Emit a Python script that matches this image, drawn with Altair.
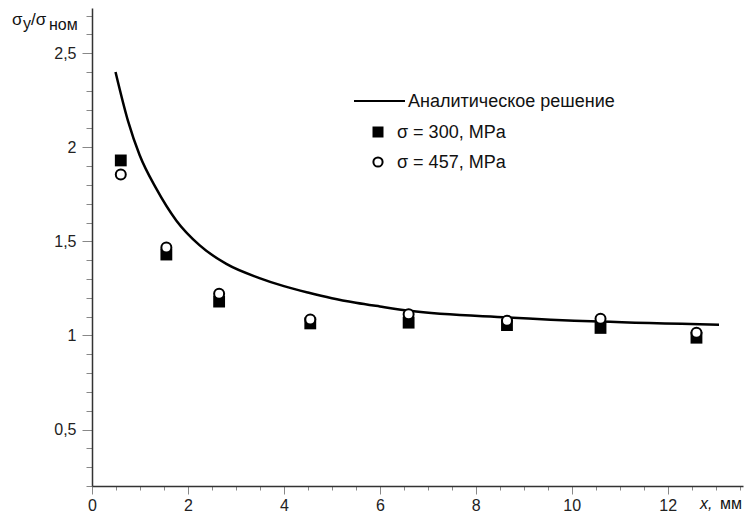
import altair as alt
import pandas as pd

# ---- data ----
curve_x = [0.49, 0.75, 0.99, 1.34, 1.76, 2.24, 2.80, 3.49, 4.0, 4.5, 5.0, 5.5, 6.0, 6.62, 8.67, 10.58, 13.07]
curve_y = [2.40, 2.14, 1.96, 1.78, 1.61, 1.48, 1.38, 1.305, 1.262, 1.228, 1.198, 1.174, 1.154, 1.131, 1.096, 1.074, 1.057]

pts_x = [0.6, 1.55, 2.65, 4.55, 6.6, 8.65, 10.6, 12.6]
sig300 = [1.93, 1.43, 1.18, 1.064, 1.068, 1.055, 1.04, 0.988]
sig457 = [1.855, 1.468, 1.222, 1.085, 1.113, 1.078, 1.089, 1.014]

x_major = [0, 2, 4, 6, 8, 10, 12]
x_minor = [i * 0.5 for i in range(28)]
y_major = [0.5, 1.0, 1.5, 2.0, 2.5]
y_minor = [round(0.2 + 0.1 * i, 1) for i in range(26)]

legend_labels = ["Аналитическое решение", "σ = 300, MPa", "σ = 457, MPa"]

FONT = "Liberation Sans"
W, H = 651, 478
x_scale = alt.Scale(domain=[0, 13.57], nice=False, zero=False)
y_scale = alt.Scale(domain=[0.2, 2.74], nice=False, zero=False)

curve_df = pd.DataFrame({"x": curve_x, "y": curve_y})
pts_df = pd.DataFrame({"x": pts_x, "s300": sig300, "s457": sig457})

minor_x_axis = alt.Axis(values=x_minor, labels=False, domain=False, tickSize=4,
                        grid=False, title=None, orient="bottom", tickColor="#888")
minor_y_axis = alt.Axis(values=y_minor, labels=False, domain=False, tickSize=6,
                        grid=False, title=None, orient="left", tickColor="#888")
major_x_axis = alt.Axis(values=x_major, labelFlush=False, tickSize=8, labelPadding=3,
                        grid=False, title=None, orient="bottom", domainColor="#333",
                        domainWidth=1.5, tickColor="#888", labelFont=FONT,
                        labelFontSize=16, labelColor="#222")
major_y_axis = alt.Axis(values=y_major, tickSize=10, labelPadding=6, grid=False,
                        title=None, orient="left", domainColor="#333", domainWidth=1.5,
                        tickColor="#888", labelFont=FONT, labelFontSize=16,
                        labelColor="#222",
                        labelExpr="replace(format(datum.value, '~g'), '.', ',')")

curve = alt.Chart(curve_df).mark_line(color="black", strokeWidth=2.5, interpolate="monotone").encode(
    x=alt.X("x:Q", scale=x_scale, axis=minor_x_axis),
    y=alt.Y("y:Q", scale=y_scale, axis=minor_y_axis),
)

squares = alt.Chart(pts_df).mark_square(color="black", filled=True, size=140, opacity=1).encode(
    x=alt.X("x:Q", scale=x_scale, axis=major_x_axis),
    y=alt.Y("s300:Q", scale=y_scale, axis=major_y_axis),
)

circles = alt.Chart(pts_df).mark_point(shape="circle", filled=False, fill="white", fillOpacity=1,
                                       stroke="black", strokeWidth=2, size=100, opacity=1).encode(
    x=alt.X("x:Q", scale=x_scale, axis=None),
    y=alt.Y("s457:Q", scale=y_scale, axis=None),
)

one = pd.DataFrame({"a": [0]})

def txt(text, x, y, size=16, style="normal", baseline="alphabetic", align="left"):
    return alt.Chart(one).mark_text(text=text, font=FONT, fontSize=size, fontStyle=style,
                                    align=align, baseline=baseline, color="#111").encode(
        x=alt.value(x), y=alt.value(y))

# y-axis title  σy/σном
ytitle = [
    txt("σ", 12 - 92, 25 - 8, size=17),
    txt("y", 23 - 92, 29 - 8, size=16),
    txt("/σ", 31 - 92, 25 - 8, size=17),
    txt("ном", 49 - 92, 30 - 8, size=16),
]
# x-axis title
xtitle = [
    txt("x,", 700 - 92, 509 - 8, style="italic"),
    txt("мм", 720 - 92, 509 - 8),
]

# legend
leg_line = alt.Chart(one).mark_rule(color="black", strokeWidth=2).encode(
    x=alt.value(354 - 92), x2=alt.value(405 - 92), y=alt.value(101 - 8))
leg_sq = alt.Chart(one).mark_square(color="black", filled=True, size=121, opacity=1).encode(
    x=alt.value(378 - 92), y=alt.value(132 - 8))
leg_ci = alt.Chart(one).mark_point(shape="circle", filled=False, fill="white", fillOpacity=1,
                                   stroke="black", strokeWidth=2, size=85, opacity=1).encode(
    x=alt.value(378 - 92), y=alt.value(162 - 8))
leg_txt = [
    txt(legend_labels[0], 408 - 92, 107 - 8, size=18),
    txt(legend_labels[1], 397 - 92, 138 - 8, size=18),
    txt(legend_labels[2], 397 - 92, 168 - 8, size=18),
]

chart = alt.layer(
    curve, squares, circles, *ytitle, *xtitle, leg_line, leg_sq, leg_ci, *leg_txt
).resolve_axis(x="independent", y="independent").properties(
    width=W, height=H,
    autosize=alt.AutoSizeParams(type="none"),
    padding={"left": 92, "top": 8, "right": 1, "bottom": 29},
    background="white",
).configure_view(stroke=None)

chart.save("out.html", embed_options={"renderer": "svg", "actions": False})
